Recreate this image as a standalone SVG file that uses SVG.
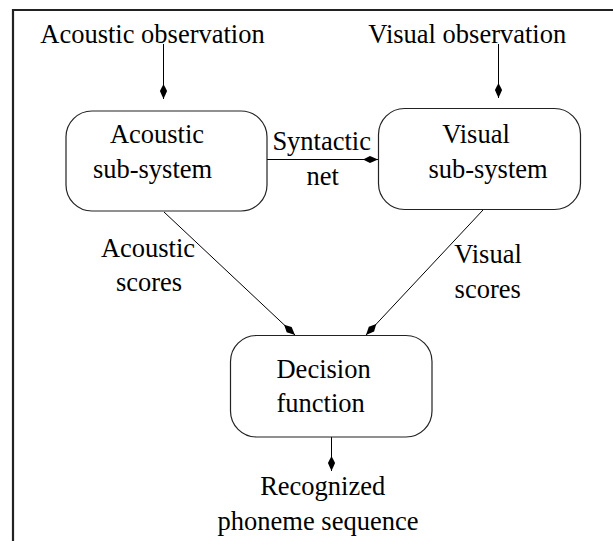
<svg xmlns="http://www.w3.org/2000/svg" width="613" height="541" viewBox="0 0 613 541">
<style>
.t{font-family:"Liberation Serif","Times New Roman",serif;font-size:26.5px;fill:#000;text-anchor:middle}
.box{fill:#fff;stroke:#222;stroke-width:1.2}
.ln{stroke:#000;stroke-width:1;fill:none;marker-end:url(#ah)}
</style>
<defs>
<marker id="ah" markerUnits="userSpaceOnUse" markerWidth="18" markerHeight="10" viewBox="-16 -5 18 10" refX="0" refY="0" orient="auto">
<path d="M0,0 L-8,-3.6 L-15,0 L-8,3.6 Z" fill="#000"/>
</marker>
</defs>
<rect width="613" height="541" fill="#fff"/>
<g id="frame">
<path d="M13,541 V10 H613" fill="none" stroke="#222" stroke-width="2.2"/>
</g>
<g id="connectors">
<line class="ln" x1="163.5" y1="44" x2="163.5" y2="99"/>
<line class="ln" x1="498.5" y1="44" x2="498.5" y2="98"/>
<line class="ln" x1="267" y1="159.5" x2="378" y2="159.5"/>
<line class="ln" x1="164" y1="212" x2="295" y2="335"/>
<line class="ln" x1="483" y1="210" x2="366" y2="335"/>
<line class="ln" x1="331.5" y1="437" x2="331.5" y2="471"/>
</g>
<g id="acoustic-obs"><text class="t" x="152.5" y="43">Acoustic observation</text></g>
<g id="visual-obs"><text class="t" x="467.3" y="43">Visual observation</text></g>
<g id="acoustic-sub">
<rect class="box" x="66" y="111" width="201" height="100" rx="26" ry="26"/>
<text class="t" x="157" y="143">Acoustic</text>
<text class="t" x="152.5" y="178">sub-system</text>
</g>
<g id="visual-sub">
<rect class="box" x="378.5" y="108.5" width="202" height="101" rx="26" ry="26"/>
<text class="t" x="476" y="143">Visual</text>
<text class="t" x="488" y="178">sub-system</text>
</g>
<g id="decision">
<rect class="box" x="230.5" y="335.5" width="201.5" height="101.5" rx="26" ry="26"/>
<text class="t" x="323.6" y="378">Decision</text>
<text class="t" x="320.7" y="412">function</text>
</g>
<g id="labels">
<text class="t" x="321.7" y="150">Syntactic</text>
<text class="t" x="322.7" y="185">net</text>
<text class="t" x="148" y="257">Acoustic</text>
<text class="t" x="149" y="291">scores</text>
<text class="t" x="488" y="263">Visual</text>
<text class="t" x="487.7" y="298">scores</text>
</g>
<g id="output">
<text class="t" x="322.7" y="495">Recognized</text>
<text class="t" x="318" y="530">phoneme sequence</text>
</g>
</svg>
